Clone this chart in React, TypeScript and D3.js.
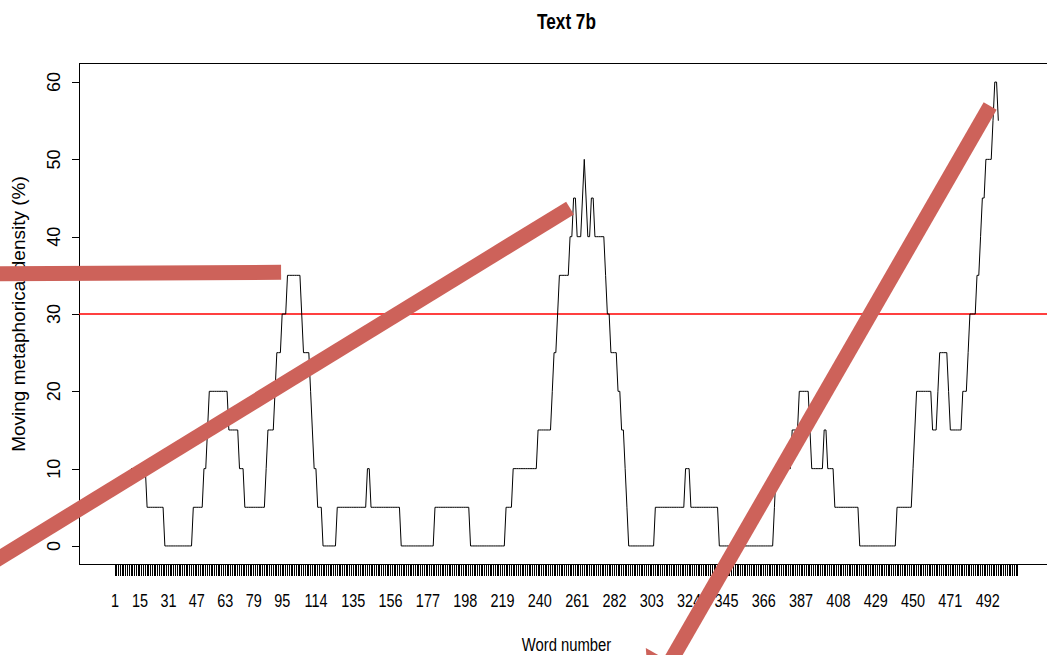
import React from 'react';
import * as d3 from 'd3';

// ---- data: moving metaphorical density, run-length encoded (word where a run starts, value of the run)
const runStarts = [10, 19, 29, 45, 51, 53, 54, 65, 71, 74, 86, 87, 91, 92, 95, 98, 106, 107, 111, 112, 113, 115, 118, 126, 143, 145, 162, 181, 201, 221, 225, 239, 247, 248, 250, 251, 257, 259, 261, 264, 265, 266, 267, 269, 271, 277, 278, 280, 284, 286, 288, 289, 290, 305, 322, 325, 341, 372, 373, 382, 386, 392, 393, 400, 402, 406, 420, 441, 450, 451, 452, 461, 464, 465, 470, 471, 478, 481, 482, 486, 488, 489, 491, 495, 496, 498];
const runValues = [10, 5, 0, 5, 10, 15, 20, 15, 10, 5, 10, 15, 20, 25, 30, 35, 30, 25, 20, 15, 10, 5, 0, 5, 10, 5, 0, 5, 0, 5, 10, 15, 20, 25, 30, 35, 40, 45, 40, 45, 50, 45, 40, 45, 40, 35, 30, 25, 20, 15, 10, 5, 0, 5, 10, 5, 0, 5, 10, 15, 20, 15, 10, 15, 10, 5, 0, 5, 10, 15, 20, 15, 20, 25, 20, 15, 20, 25, 30, 35, 40, 45, 50, 55, 60, 55];
const lastWord = 498;
const totalWords = 509;

const xTickLabels = [1, 15, 31, 47, 63, 79, 95, 114, 135, 156, 177, 198, 219, 240, 261, 282, 303, 324, 345, 366, 387, 408, 429, 450, 471, 492];
const yTicks = [0, 10, 20, 30, 40, 50, 60];
const threshold = 30;

const title = 'Text 7b';
const xTitle = 'Word number';
const yTitle = 'Moving metaphorical density (%)';

// annotation arrows (data coordinates: word, density)
const arrowFrom = [[-75, 35.2], [-75, -3.1], [493.4, 56.9]];
const arrowTo = [[94.4, 35.4], [257, 43.7], [301.5, -19.7]];
const arrowHead = [false, false, true];

const W = 1047;
const H = 655;
const FONT = "'Liberation Sans', Arial, Helvetica, sans-serif";
const ARROW_COLOR = '#CD625A';

export default function App() {
  const xMin = 1, xMax = totalWords;
  const xPad = (xMax - xMin) * 0.04;
  const x = d3.scaleLinear().domain([xMin - xPad, xMax + xPad]).range([79, 1054]);
  const yPad = 60 * 0.04;
  const y = d3.scaleLinear().domain([0 - yPad, 60 + yPad]).range([564.5, 63.5]);

  // expand runs into per-word points
  const points: [number, number][] = [];
  for (let i = 0; i < runStarts.length; i++) {
    const end = i + 1 < runStarts.length ? runStarts[i + 1] - 1 : lastWord;
    for (let w = runStarts[i]; w <= end; w++) points.push([w, runValues[i]]);
  }
  const line = d3.line<[number, number]>().x(d => x(d[0])).y(d => y(d[1]));

  const allTicks = d3.range(1, totalWords + 1);
  const [x0, x1] = x.range();
  const [yb, yt] = y.range();

  const arrows = arrowFrom.map((f, i) => {
    const p0 = [x(f[0]), y(f[1])];
    const p1 = [x(arrowTo[i][0]), y(arrowTo[i][1])];
    const dx = p1[0] - p0[0], dy = p1[1] - p0[1];
    const len = Math.hypot(dx, dy);
    const ux = dx / len, uy = dy / len;
    const px = -uy, py = ux;
    if (!arrowHead[i]) {
      return <line key={i} x1={p0[0]} y1={p0[1]} x2={p1[0]} y2={p1[1]} stroke={ARROW_COLOR} strokeWidth={15} />;
    }
    const hl = 42, hw = 28;
    const bx = p1[0] - ux * hl, by = p1[1] - uy * hl;
    const head = `${p1[0]},${p1[1]} ${bx + px * hw},${by + py * hw} ${bx - px * hw},${by - py * hw}`;
    return (
      <g key={i}>
        <line x1={p0[0]} y1={p0[1]} x2={bx + ux * 2} y2={by + uy * 2} stroke={ARROW_COLOR} strokeWidth={15} />
        <polygon points={head} fill={ARROW_COLOR} />
      </g>
    );
  });

  return (
    <svg width={W} height={H} style={{ position: 'absolute', left: 0, top: 0, display: 'block', background: '#fff' }} fontFamily={FONT}>
      <rect x={0} y={0} width={W} height={H} fill="#fff" />
      {/* title */}
      <text transform={`translate(${(x0 + x1) / 2},29) scale(0.78,1)`} textAnchor="middle" fontSize={22} fontWeight="bold">{title}</text>

      {/* plot box */}
      <rect x={x0 + 0.5} y={yt} width={x1 - x0} height={yb - yt} fill="none" stroke="#000" strokeWidth={1} />

      {/* y axis */}
      {yTicks.map(v => (
        <g key={v}>
          <line x1={x0} x2={x0 - 7} y1={Math.round(y(v)) + 0.5} y2={Math.round(y(v)) + 0.5} stroke="#000" />
          <text transform={`translate(60,${y(v)}) rotate(-90)`} textAnchor="middle" fontSize={18}>{v}</text>
        </g>
      ))}
      <text transform={`translate(25,${(yb + yt) / 2}) rotate(-90)`} textAnchor="middle" fontSize={19}>{yTitle}</text>

      {/* x axis */}
      <g shapeRendering="crispEdges">
        {allTicks.map(t => (
          <line key={t} x1={x(t)} x2={x(t)} y1={yb} y2={yb + 11} stroke="#000" strokeWidth={1} />
        ))}
      </g>
      {xTickLabels.map(t => (
        <text key={t} transform={`translate(${x(t)},606.5) scale(0.78,1)`} textAnchor="middle" fontSize={18.5}>{t}</text>
      ))}
      <text transform={`translate(${(x0 + x1) / 2},651) scale(0.78,1)`} textAnchor="middle" fontSize={19}>{xTitle}</text>

      {/* threshold */}
      <line x1={x0} x2={x1} y1={y(threshold)} y2={y(threshold)} stroke="#FF0000" strokeWidth={1.3} />

      {/* density line */}
      <path d={line(points) || ''} fill="none" stroke="#000" strokeWidth={1} />

      {/* annotation arrows */}
      {arrows}
    </svg>
  );
}
